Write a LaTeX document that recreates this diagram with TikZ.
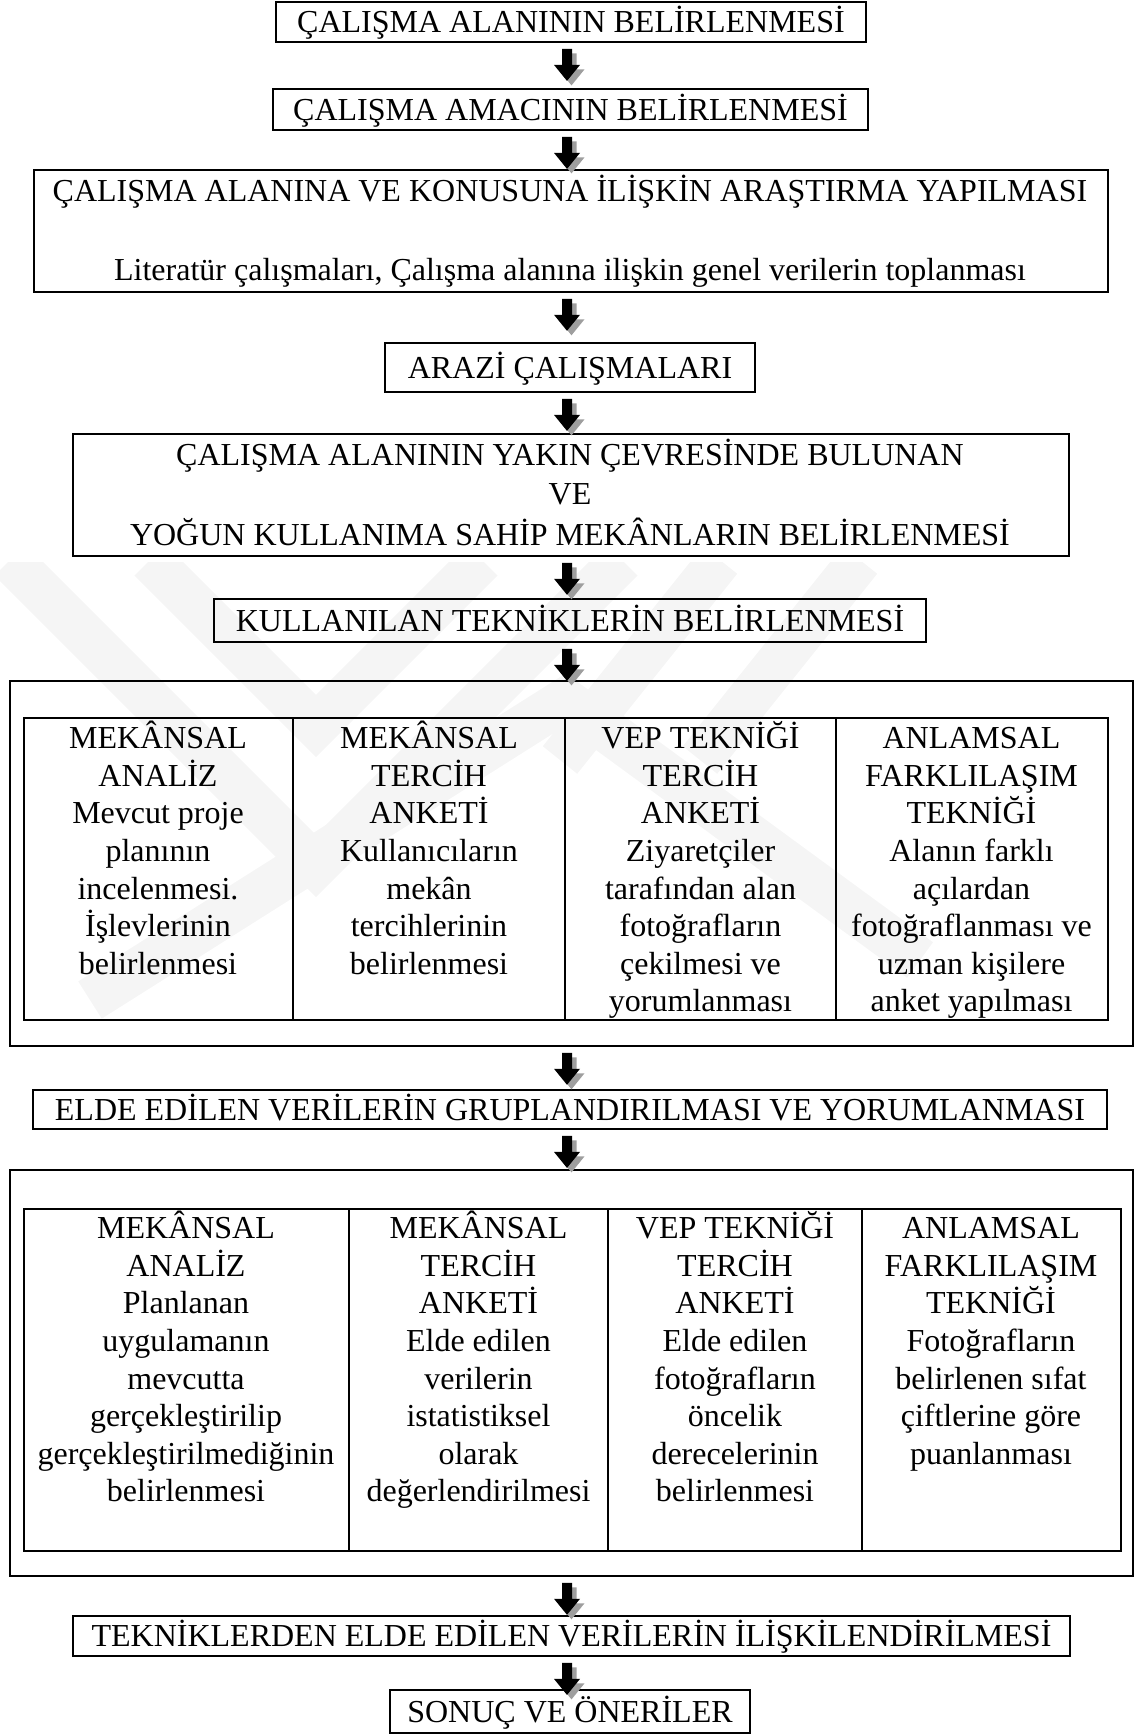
\documentclass[tikz,border=0pt]{standalone}
\usepackage{fontspec}
\setmainfont{Liberation Serif}
\begin{document}
\begin{tikzpicture}[x=1pt,y=-1pt,
  every node/.style={font=\fontsize{32}{37.6}\selectfont},
  boxnode/.style={draw, line width=1.8pt, inner sep=0pt, text height=21pt, text depth=0pt, anchor=center},
  plainbox/.style={draw, line width=1.8pt, inner sep=0pt, anchor=north west},
  textline/.style={inner sep=0pt, anchor=base},
  cell/.style={inner sep=0pt, anchor=north, align=center},
  divider/.style={line width=1.6pt},
  arrowfill/.style={fill=black},
  arrowshadow/.style={fill=black!38},
  wmark/.style={draw=black!4, line width=44pt, line cap=butt, line join=miter}
]
\useasboundingbox (0,0) rectangle (1139,1735);
% faint watermark
\begin{scope}
  \clip (0,562) rectangle (1139,1050);
  \draw[wmark] (150,560) -- (316,726) -- (482,560);
  \draw[wmark] (10,560) -- (316,866) -- (622,560);
  \draw[wmark] (90,1000) -- (565,700) -- (920,960);
  \draw[wmark] (720,560) -- (560,760);
  \draw[wmark] (860,560) -- (700,760);
\end{scope}
\coordinate (ax) at (567,0);
% arrow macro: block arrow below node #1
\newcommand\blockarrow[2]{%
  \coordinate (#2) at ([yshift=-6pt]#1.south -| ax);
  \fill[arrowshadow] ([xshift=4.5pt,yshift=-4.5pt]#2) ++(-5,0) -- ++(10,0) -- ++(0,16) -- ++(8,0) -- ++(-13,16) -- ++(-13,-16) -- ++(8,0) -- cycle;
  \fill[arrowfill] (#2) ++(-5,0) -- ++(10,0) -- ++(0,16) -- ++(8,0) -- ++(-13,16) -- ++(-13,-16) -- ++(8,0) -- cycle;
}
% boxes
\node[boxnode, minimum width=590pt, minimum height=40pt] (b1) at (571,22) {ÇALIŞMA ALANININ BELİRLENMESİ};
\node[boxnode, minimum width=595pt, minimum height=41pt] (b2) at (570.5,109.5) {ÇALIŞMA AMACININ BELİRLENMESİ};
\node[plainbox, minimum width=1074pt, minimum height=122pt] (b3) at (33,169) {};
\node[textline] (b3a) at (570,201.5) {ÇALIŞMA ALANINA VE KONUSUNA İLİŞKİN ARAŞTIRMA YAPILMASI};
\node[textline] (b3b) at (570,280.5) {Literatür çalışmaları, Çalışma alanına ilişkin genel verilerin toplanması};
\node[boxnode, minimum width=370pt, minimum height=49pt] (b4) at (570,367.5) {ARAZİ ÇALIŞMALARI};
\node[plainbox, minimum width=996pt, minimum height=122pt] (b5) at (72,433) {};
\node[textline] (b5a) at (570,465.5) {ÇALIŞMA ALANININ YAKIN ÇEVRESİNDE BULUNAN};
\node[textline] (b5b) at (570,504.5) {VE};
\node[textline] (b5c) at (570,545.5) {YOĞUN KULLANIMA SAHİP MEKÂNLARIN BELİRLENMESİ};
\node[boxnode, minimum width=712pt, minimum height=43pt] (b6) at (570,620.5) {KULLANILAN TEKNİKLERİN BELİRLENMESİ};
% outer box 7 with table
\node[plainbox, minimum width=1123pt, minimum height=365pt] (b7) at (9,680) {};
\node[plainbox, minimum width=1084pt, minimum height=302pt] (t7) at (23,717) {};
\draw[divider] (293,717) -- (293,1019) (565,717) -- (565,1019) (836,717) -- (836,1019);
\node[cell] (t7c1) at (158,718.5) {\rule{0pt}{30pt}MEKÂNSAL\\ANALİZ\\Mevcut proje\\planının\\incelenmesi.\\İşlevlerinin\\belirlenmesi};
\node[cell] (t7c2) at (429,718.5) {\rule{0pt}{30pt}MEKÂNSAL\\TERCİH\\ANKETİ\\Kullanıcıların\\mekân\\tercihlerinin\\belirlenmesi};
\node[cell] (t7c3) at (700.5,718.5) {\rule{0pt}{30pt}VEP TEKNİĞİ\\TERCİH\\ANKETİ\\Ziyaretçiler\\tarafından alan\\fotoğrafların\\çekilmesi ve\\yorumlanması};
\node[cell] (t7c4) at (971.5,718.5) {\rule{0pt}{30pt}ANLAMSAL\\FARKLILAŞIM\\TEKNİĞİ\\Alanın farklı\\açılardan\\fotoğraflanması ve\\uzman kişilere\\anket yapılması};
\node[boxnode, minimum width=1074pt, minimum height=39pt] (b8) at (570,1109.5) {ELDE EDİLEN VERİLERİN GRUPLANDIRILMASI VE YORUMLANMASI};
% outer box 9 with table
\node[plainbox, minimum width=1123pt, minimum height=406pt] (b9) at (9,1169) {};
\node[plainbox, minimum width=1097pt, minimum height=342pt] (t9) at (23,1208) {};
\draw[divider] (349,1208) -- (349,1550) (608,1208) -- (608,1550) (862,1208) -- (862,1550);
\node[cell] (t9c1) at (186,1208.5) {\rule{0pt}{30pt}MEKÂNSAL\\ANALİZ\\Planlanan\\uygulamanın\\mevcutta\\gerçekleştirilip\\gerçekleştirilmediğinin\\belirlenmesi};
\node[cell] (t9c2) at (478.5,1208.5) {\rule{0pt}{30pt}MEKÂNSAL\\TERCİH\\ANKETİ\\Elde edilen\\verilerin\\istatistiksel\\olarak\\değerlendirilmesi};
\node[cell] (t9c3) at (735,1208.5) {\rule{0pt}{30pt}VEP TEKNİĞİ\\TERCİH\\ANKETİ\\Elde edilen\\fotoğrafların\\öncelik\\derecelerinin\\belirlenmesi};
\node[cell] (t9c4) at (991,1208.5) {\rule{0pt}{30pt}ANLAMSAL\\FARKLILAŞIM\\TEKNİĞİ\\Fotoğrafların\\belirlenen sıfat\\çiftlerine göre\\puanlanması};
\node[boxnode, minimum width=997pt, minimum height=40pt] (b10) at (571.5,1636) {TEKNİKLERDEN ELDE EDİLEN VERİLERİN İLİŞKİLENDİRİLMESİ};
\node[boxnode, minimum width=360pt, minimum height=43pt] (b11) at (570,1711.5) {SONUÇ VE ÖNERİLER};
% arrows
\blockarrow{b1}{a1}
\blockarrow{b2}{a2}
\blockarrow{b3}{a3}
\blockarrow{b4}{a4}
\blockarrow{b5}{a5}
\blockarrow{b6}{a6}
\blockarrow{b7}{a7}
\blockarrow{b8}{a8}
\blockarrow{b9}{a9}
\blockarrow{b10}{a10}
\end{tikzpicture}
\end{document}
